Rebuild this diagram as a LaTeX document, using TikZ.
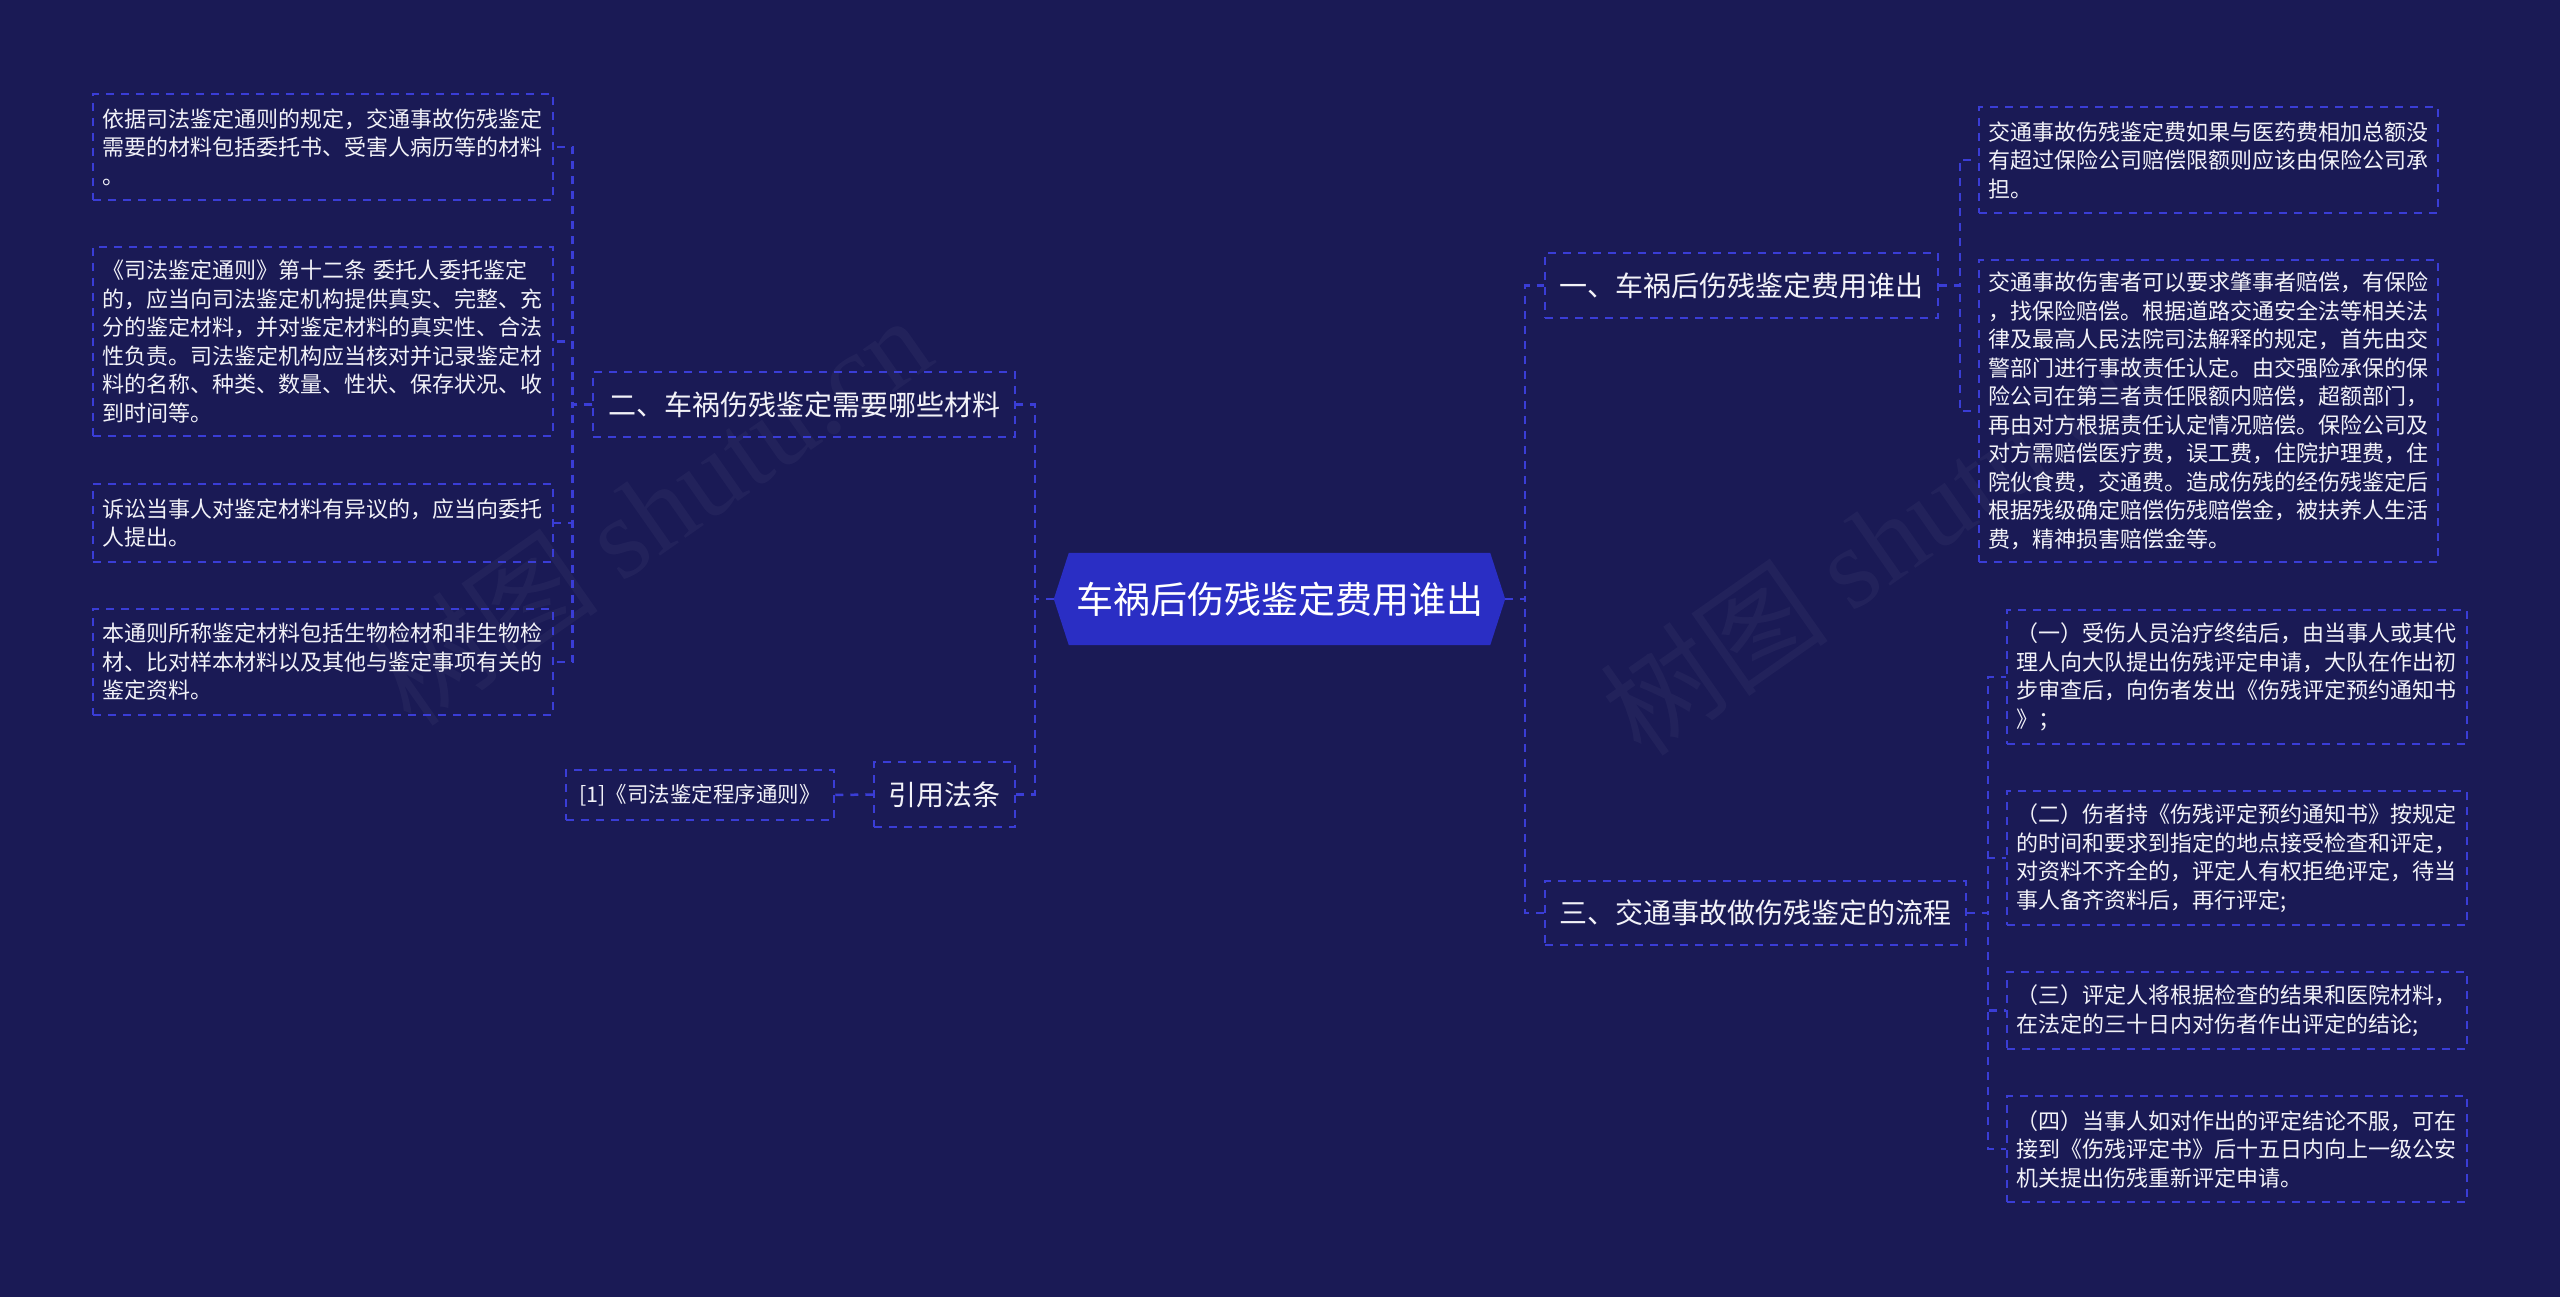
\documentclass[tikz,border=0pt]{standalone}
\usepackage{fontspec}
\setmainfont{Noto Sans CJK SC}
\newfontfamily\wmfont{Liberation Serif}
\definecolor{bgc}{HTML}{1A1A55}
\definecolor{linec}{HTML}{3A3DD6}
\definecolor{rootc}{HTML}{2A2EC4}
\definecolor{txtc}{HTML}{F2F2F8}
\pgfdeclarelayer{bg}
\pgfsetlayers{bg,main}
\tikzset{
  x=1pt, y=-1pt,
  dashpat/.style={dash pattern=on 8pt off 7pt},
  tbox/.style={draw=linec, line width=1.5pt, dashpat, text=txtc, inner sep=0pt,
    font=\fontsize{22}{28.5}\selectfont, align=left, text width=441pt,
    minimum width=460pt},
  title/.style={draw=linec, line width=1.5pt, dashpat, text=txtc, inner sep=0pt,
    font=\fontsize{28}{34}\selectfont},
  conn/.style={draw=linec, line width=2.5pt, dashpat},
  wm/.style={text=white, opacity=0.035, font=\fontsize{115}{115}\selectfont, rotate=35}
}
\begin{document}
\begin{tikzpicture}
\useasboundingbox (0,0) rectangle (2560,1297);
\begin{pgfonlayer}{bg}
\fill[bgc] (0,0) rectangle (2560,1297);
\node[wm] (wm1) at (650,510) {树图 {\wmfont shutu.cn}};
\node[wm] (wm2) at (1880,540) {树图 {\wmfont shutu.cn}};
\end{pgfonlayer}

% root
\node[text=white, font=\fontsize{37}{44}\selectfont, minimum width=451pt, minimum height=92pt, inner sep=0pt] (root) at (1279.5,599) {车祸后伤残鉴定费用谁出};
\begin{pgfonlayer}{bg}
\fill[rootc] (root.west) -- ([xshift=15pt]root.north west) -- ([xshift=-15pt]root.north east) -- (root.east) -- ([xshift=-15pt]root.south east) -- ([xshift=15pt]root.south west) -- cycle;
\end{pgfonlayer}

% left branch
\node[title, minimum width=422pt, minimum height=65pt] (two) at (804,404.5) {二、车祸伤残鉴定需要哪些材料};
\node[title, minimum width=141pt, minimum height=65pt] (cite) at (944.5,794.5) {引用法条};
\node[title, font=\fontsize{21.5}{26}\selectfont, minimum width=268pt, minimum height=50pt] (ref) at (700,795) {[1]《司法鉴定程序通则》};

\node[tbox, minimum height=106pt] (L1) at (323,147) {依据司法鉴定通则的规定，交通事故伤残鉴定\\需要的材料包括委托书、受害人病历等的材料\\。};
\node[tbox, minimum height=189pt] (L2) at (323,341.5) {《司法鉴定通则》第十二条 委托人委托鉴定\\的，应当向司法鉴定机构提供真实、完整、充\\分的鉴定材料，并对鉴定材料的真实性、合法\\性负责。司法鉴定机构应当核对并记录鉴定材\\料的名称、种类、数量、性状、保存状况、收\\到时间等。};
\node[tbox, minimum height=78pt] (L3) at (323,523) {诉讼当事人对鉴定材料有异议的，应当向委托\\人提出。};
\node[tbox, minimum height=106pt] (L4) at (323,662) {本通则所称鉴定材料包括生物检材和非生物检\\材、比对样本材料以及其他与鉴定事项有关的\\鉴定资料。};

% right branch
\node[title, minimum width=393pt, minimum height=65pt] (one) at (1741.5,285.5) {一、车祸后伤残鉴定费用谁出};
\node[title, minimum width=421pt, minimum height=64pt] (three) at (1755.5,913) {三、交通事故做伤残鉴定的流程};

\node[tbox, minimum width=459pt, minimum height=106pt] (R1) at (2208.5,160) {交通事故伤残鉴定费如果与医药费相加总额没\\有超过保险公司赔偿限额则应该由保险公司承\\担。};
\node[tbox, minimum width=459pt, minimum height=302pt] (R2) at (2208.5,411) {交通事故伤害者可以要求肇事者赔偿，有保险\\，找保险赔偿。根据道路交通安全法等相关法\\律及最高人民法院司法解释的规定，首先由交\\警部门进行事故责任认定。由交强险承保的保\\险公司在第三者责任限额内赔偿，超额部门，\\再由对方根据责任认定情况赔偿。保险公司及\\对方需赔偿医疗费，误工费，住院护理费，住\\院伙食费，交通费。造成伤残的经伤残鉴定后\\根据残级确定赔偿伤残赔偿金，被扶养人生活\\费，精神损害赔偿金等。};

\node[tbox, minimum height=134pt] (P1) at (2237,677) {（一）受伤人员治疗终结后，由当事人或其代\\理人向大队提出伤残评定申请，大队在作出初\\步审查后，向伤者发出《伤残评定预约通知书\\》；};
\node[tbox, minimum height=134pt] (P2) at (2237,858) {（二）伤者持《伤残评定预约通知书》按规定\\的时间和要求到指定的地点接受检查和评定，\\对资料不齐全的，评定人有权拒绝评定，待当\\事人备齐资料后，再行评定;};
\node[tbox, minimum height=77pt] (P3) at (2237,1010.5) {（三）评定人将根据检查的结果和医院材料，\\在法定的三十日内对伤者作出评定的结论;};
\node[tbox, minimum height=106pt] (P4) at (2237,1149) {（四）当事人如对作出的评定结论不服，可在\\接到《伤残评定书》后十五日内向上一级公安\\机关提出伤残重新评定申请。};

% connectors
\draw[conn] (root.west) -- ++(-19,0) |- (two.east);
\draw[conn] (root.west) -- ++(-19,0) |- (cite.east);
\draw[conn] (cite.west) -- (ref.east);
\foreach \c in {L1,L2,L3,L4}{\draw[conn] (two.west) -- ++(-20,0) |- (\c.east);}
\draw[conn] (root.east) -- ++(20,0) |- (one.west);
\draw[conn] (root.east) -- ++(20,0) |- (three.west);
\foreach \c in {R1,R2}{\draw[conn] (one.east) -- ++(21,0) |- (\c.west);}
\foreach \c in {P1,P2,P3,P4}{\draw[conn] (three.east) -- ++(21,0) |- (\c.west);}
\end{tikzpicture}
\end{document}
